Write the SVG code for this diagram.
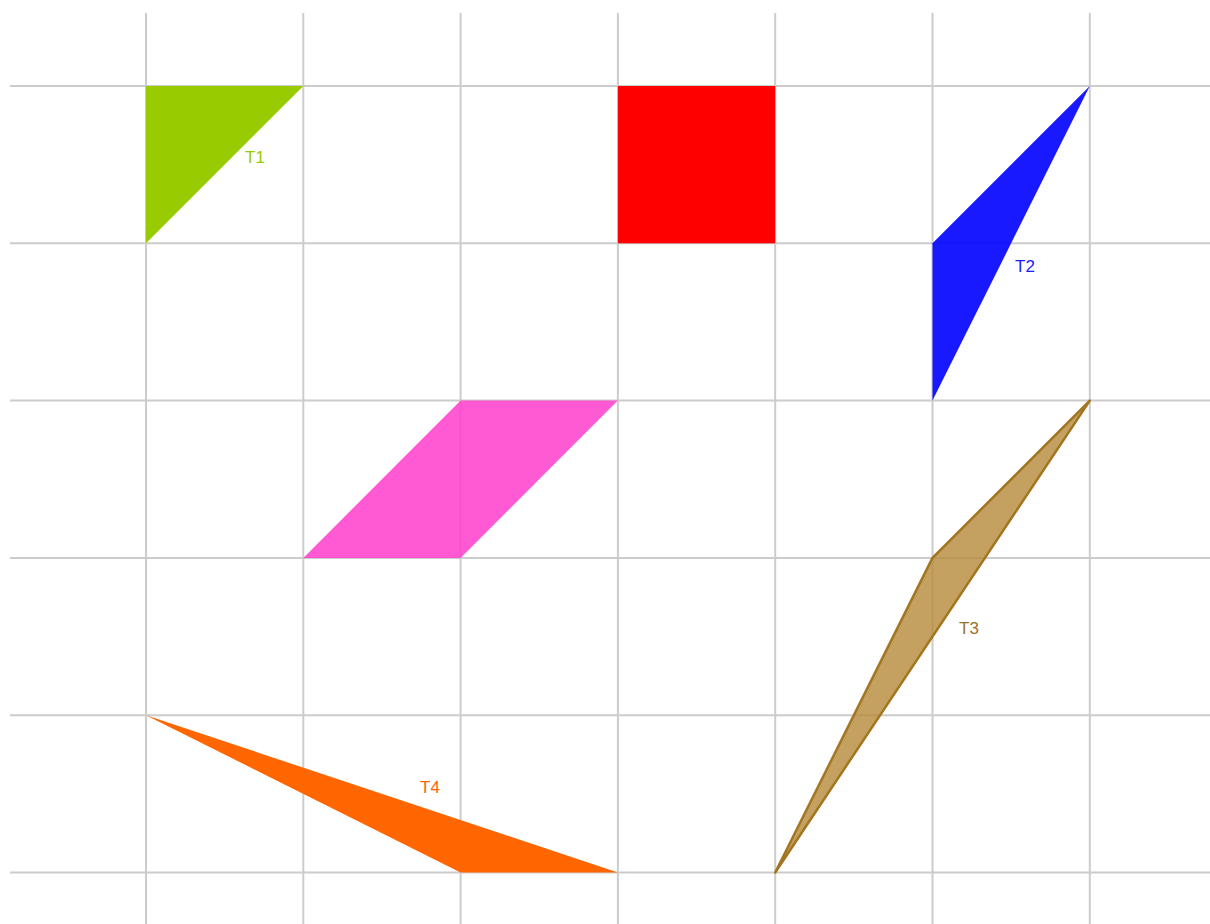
<svg xmlns="http://www.w3.org/2000/svg" width="1210" height="924" viewBox="0 0 1210 924">
<style>
.grid line{stroke:#cccccc;stroke-width:2}
.lbl{font-family:"Liberation Sans",Arial,sans-serif;font-size:17px}
</style>
<rect width="1210" height="924" fill="#ffffff"/>
<g class="grid" id="grid">
<line x1="146" y1="13" x2="146" y2="924"/>
<line x1="303.3" y1="13" x2="303.3" y2="924"/>
<line x1="460.6" y1="13" x2="460.6" y2="924"/>
<line x1="617.9" y1="13" x2="617.9" y2="924"/>
<line x1="775.2" y1="13" x2="775.2" y2="924"/>
<line x1="932.5" y1="13" x2="932.5" y2="924"/>
<line x1="1089.8" y1="13" x2="1089.8" y2="924"/>
<line x1="10" y1="86" x2="1210" y2="86"/>
<line x1="10" y1="243.3" x2="1210" y2="243.3"/>
<line x1="10" y1="400.6" x2="1210" y2="400.6"/>
<line x1="10" y1="557.9" x2="1210" y2="557.9"/>
<line x1="10" y1="715.2" x2="1210" y2="715.2"/>
<line x1="10" y1="872.5" x2="1210" y2="872.5"/>
</g>
<g id="T1">
<polygon points="146,86 303.3,86 146,243.3" fill="#99cc00"/>
<text class="lbl" x="245" y="163" fill="#99cc00">T1</text>
</g>
<g id="square">
<rect x="617.9" y="86" width="157.3" height="157.3" fill="#ff0000"/>
</g>
<g id="T2">
<polygon points="1089.8,86 932.5,243.3 932.5,400.6" fill="#0000ff" fill-opacity="0.9"/>
<text class="lbl" x="1015" y="272" fill="#1a1aff">T2</text>
</g>
<g id="parallelogram">
<polygon points="303.3,557.9 460.6,557.9 617.9,400.6 460.6,400.6" fill="#ff3fcc" fill-opacity="0.86"/>
</g>
<g id="T3">
<polygon points="775.2,872.5 932.5,557.9 1089.8,400.6" fill="#b58a3a" fill-opacity="0.8" stroke="#a37520" stroke-width="2.5" stroke-linejoin="round"/>
<text class="lbl" x="959" y="634" fill="#9b7125">T3</text>
</g>
<g id="T4">
<polygon points="146,715.2 460.6,872.5 617.9,872.5" fill="#ff6600"/>
<text class="lbl" x="420" y="793" fill="#ff6600">T4</text>
</g>
</svg>
